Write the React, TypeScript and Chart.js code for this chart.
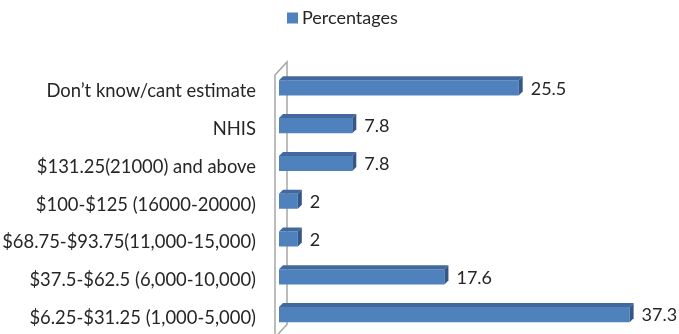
import React, { useEffect, useRef } from 'react';
import { Chart, registerables } from 'chart.js';

Chart.register(...registerables);

// Categories, top to bottom
const categories = [
  'Don’t know/cant estimate',
  'NHIS',
  '$131.25(21000) and above',
  '$100-$125 (16000-20000)',
  '$68.75-$93.75(11,000-15,000)',
  '$37.5-$62.5 (6,000-10,000)',
  '$6.25-$31.25 (1,000-5,000)',
];

// Share of respondents (%)
const percentages = [25.5, 7.8, 7.8, 2, 2, 17.6, 37.3];

const seriesLabel = 'Percentages';

const FONT = 'Lato, "Open Sans", "Liberation Sans", sans-serif';
const TEXT = '#262626';
const FRONT = '#4F81BD';
const TOP = '#41699E';
const SIDE = '#34578A';
const WALL = '#A6A6A6';
const DEPTH = 4;

// Draws the perspective side wall, the 3D faces of each bar, value labels and legend
const bar3d = {
  id: 'bar3d',
  beforeDatasetsDraw(chart: any) {
    const { ctx, chartArea } = chart;
    const left = chartArea.left;
    const fx = left - 4;
    const bx = left + 8;
    ctx.save();
    ctx.strokeStyle = WALL;
    ctx.lineWidth = 1.5;
    ctx.beginPath();
    ctx.moveTo(fx, chartArea.bottom + 4);
    ctx.lineTo(fx, chartArea.top + 6);
    ctx.lineTo(bx, chartArea.top - 7);
    ctx.lineTo(bx, chartArea.bottom - 9);
    ctx.lineTo(fx, chartArea.bottom + 4);
    ctx.stroke();
    ctx.restore();
  },
  afterDatasetsDraw(chart: any) {
    const { ctx } = chart;
    const meta = chart.getDatasetMeta(0);
    const values = chart.data.datasets[0].data as number[];
    ctx.save();
    meta.data.forEach((el: any, i: number) => {
      const { x, y, base, height } = el.getProps(['x', 'y', 'base', 'height'], true);
      const top = y - height / 2;
      const bottom = y + height / 2;
      const x0 = Math.min(base, x);
      const x1 = Math.max(base, x);
      // top face
      ctx.fillStyle = TOP;
      ctx.beginPath();
      ctx.moveTo(x0, top);
      ctx.lineTo(x0 + DEPTH, top - DEPTH);
      ctx.lineTo(x1 + DEPTH, top - DEPTH);
      ctx.lineTo(x1, top);
      ctx.closePath();
      ctx.fill();
      // end face
      ctx.fillStyle = SIDE;
      ctx.beginPath();
      ctx.moveTo(x1, top);
      ctx.lineTo(x1 + DEPTH, top - DEPTH);
      ctx.lineTo(x1 + DEPTH, bottom - DEPTH);
      ctx.lineTo(x1, bottom);
      ctx.closePath();
      ctx.fill();
      // value label
      ctx.fillStyle = TEXT;
      ctx.font = `18px ${FONT}`;
      ctx.textAlign = 'left';
      ctx.textBaseline = 'middle';
      ctx.fillText(String(values[i]), x1 + 12, y + 1);
    });

    // legend
    const ds = chart.data.datasets[0];
    ctx.fillStyle = ds.backgroundColor;
    ctx.fillRect(287, 12.5, 11, 11);
    ctx.fillStyle = TEXT;
    ctx.font = `18px ${FONT}`;
    ctx.textAlign = 'left';
    ctx.textBaseline = 'alphabetic';
    ctx.fillText(ds.label, 302, 24);
    ctx.restore();
  },
};

export default function App() {
  const canvasRef = useRef<HTMLCanvasElement | null>(null);

  useEffect(() => {
    if (!canvasRef.current) return;
    const chart = new Chart(canvasRef.current, {
      type: 'bar',
      data: {
        labels: categories,
        datasets: [
          {
            label: seriesLabel,
            data: percentages,
            backgroundColor: FRONT,
            borderWidth: 0,
            barPercentage: 0.4,
            categoryPercentage: 1,
          },
        ],
      },
      options: {
        indexAxis: 'y',
        animation: false,
        responsive: false,
        maintainAspectRatio: false,
        layout: { padding: { top: 69, bottom: 0.5, right: 24, left: 0 } },
        plugins: {
          legend: { display: false },
          tooltip: { enabled: false },
        },
        scales: {
          x: { display: false, min: 0, max: 40 },
          y: {
            grid: { display: false, drawTicks: false },
            border: { display: false },
            ticks: {
              padding: 23,
              labelOffset: 3.5,
              color: TEXT,
              font: { family: FONT, size: 18.4 },
            },
            afterFit: (scale: any) => {
              scale.width = 279;
              scale.paddingTop = 0;
              scale.paddingBottom = 0;
            },
          },
        },
      },
      plugins: [bar3d],
    });
    return () => chart.destroy();
  }, []);

  return (
    <div style={{ position: 'fixed', left: 0, top: 0, width: 679, height: 334, background: '#fff' }}>
      <canvas ref={canvasRef} width={679} height={334} />
    </div>
  );
}
